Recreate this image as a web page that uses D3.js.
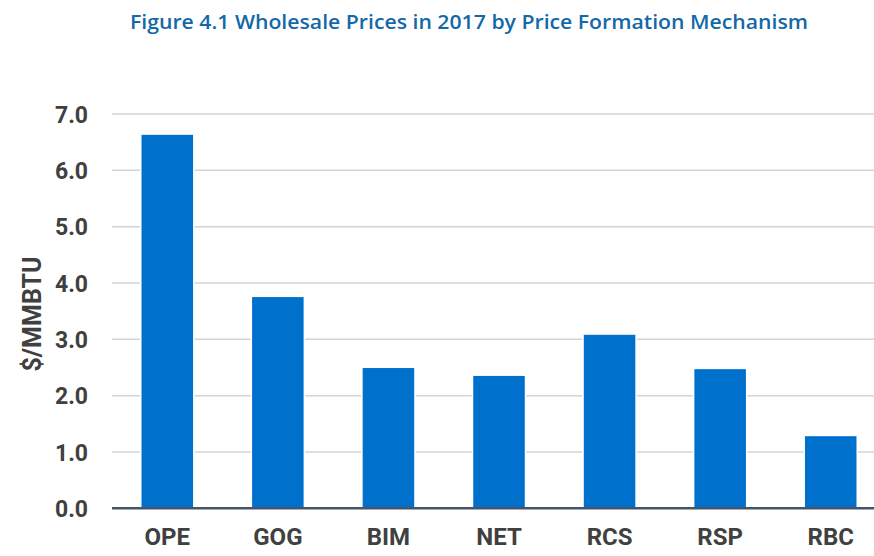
<!DOCTYPE html>
<html lang="en">
<head>
    <meta charset="utf-8" />
    <title>Wholesale Prices in 2017 by Price Formation Mechanism</title>
    <script src="https://d3js.org/d3.v7.js"></script>
    <style>
        body, html {
            margin: 0;
            background: #ffffff;
        }
        .title {
            font-family: "Open Sans", Lato, sans-serif;
            font-size: 19px;
            font-weight: 600;
            fill: #1368a8;
        }
        .tick text, .y_title {
            font-family: Roboto, "Liberation Sans", sans-serif;
            font-weight: bold;
            fill: #404040;
        }
    </style>
</head>
<body>
    <div id="canvas"></div>
<script>
    // 資料
    var categories = ["OPE", "GOG", "BIM", "NET", "RCS", "RSP", "RBC"];
    var prices = [6.63, 3.75, 2.49, 2.35, 3.08, 2.47, 1.28];
    var yTicks = [0, 1, 2, 3, 4, 5, 6, 7];

    var data = categories.map(function(c, i) { return {name: c, value: prices[i]}; });

    var svg = d3.select("#canvas")
        .append("svg")
        .attr("width", 874)
        .attr("height", 556);

    var x = d3.scaleBand()
        .domain(categories)
        .range([112, 886])
        .paddingInner(0.534)
        .paddingOuter(0.267);

    var y = d3.scaleLinear()
        .domain([0, 7])
        .range([508.3, 114]);

    // 標題
    svg.append("text")
        .attr("class", "title")
        .attr("x", 469)
        .attr("y", 29)
        .attr("text-anchor", "middle")
        .attr("textLength", 678)
        .attr("lengthAdjust", "spacingAndGlyphs")
        .text("Figure 4.1 Wholesale Prices in 2017 by Price Formation Mechanism");

    // 格線
    svg.append("g")
        .selectAll("line")
        .data(yTicks.slice(1))
        .enter()
        .append("line")
        .attr("x1", 112)
        .attr("x2", 874)
        .attr("y1", function(d) { return y(d); })
        .attr("y2", function(d) { return y(d); })
        .attr("stroke", "#d4d4d4")
        .attr("stroke-width", 1.5);

    // y 軸
    var yAxis = svg.append("g")
        .attr("transform", "translate(112,0)")
        .call(d3.axisLeft(y).tickValues(yTicks).tickFormat(d3.format(".1f")).tickSize(0).tickPadding(24));
    yAxis.select(".domain").remove();
    yAxis.selectAll(".tick text")
        .style("font-size", "23px")
        .attr("dy", "0.36em");

    // 直條
    svg.append("g")
        .selectAll("rect")
        .data(data)
        .enter()
        .append("rect")
        .attr("x", function(d) { return x(d.name); })
        .attr("y", function(d) { return y(d.value); })
        .attr("width", x.bandwidth())
        .attr("height", function(d) { return y(0) - y(d.value); })
        .attr("fill", "#0070cd")
        .attr("stroke", "#ffffff")
        .attr("stroke-width", 3)
        .attr("paint-order", "stroke");

    // x 軸
    var xAxis = svg.append("g")
        .attr("transform", "translate(0," + y(0) + ")")
        .call(d3.axisBottom(x).tickSize(0).tickPadding(20));
    xAxis.select(".domain")
        .attr("d", "M112,0H874")
        .attr("stroke", "#44546a")
        .attr("stroke-width", 2.5);
    xAxis.selectAll(".tick text")
        .style("font-size", "24px")
        .attr("dy", "0.71em");

    // y 軸標題
    svg.append("text")
        .attr("class", "y_title")
        .attr("transform", "rotate(-90)")
        .attr("x", -314)
        .attr("y", 41)
        .attr("text-anchor", "middle")
        .style("font-size", "25px")
        .text("$/MMBTU");
</script>
</body>
</html>
